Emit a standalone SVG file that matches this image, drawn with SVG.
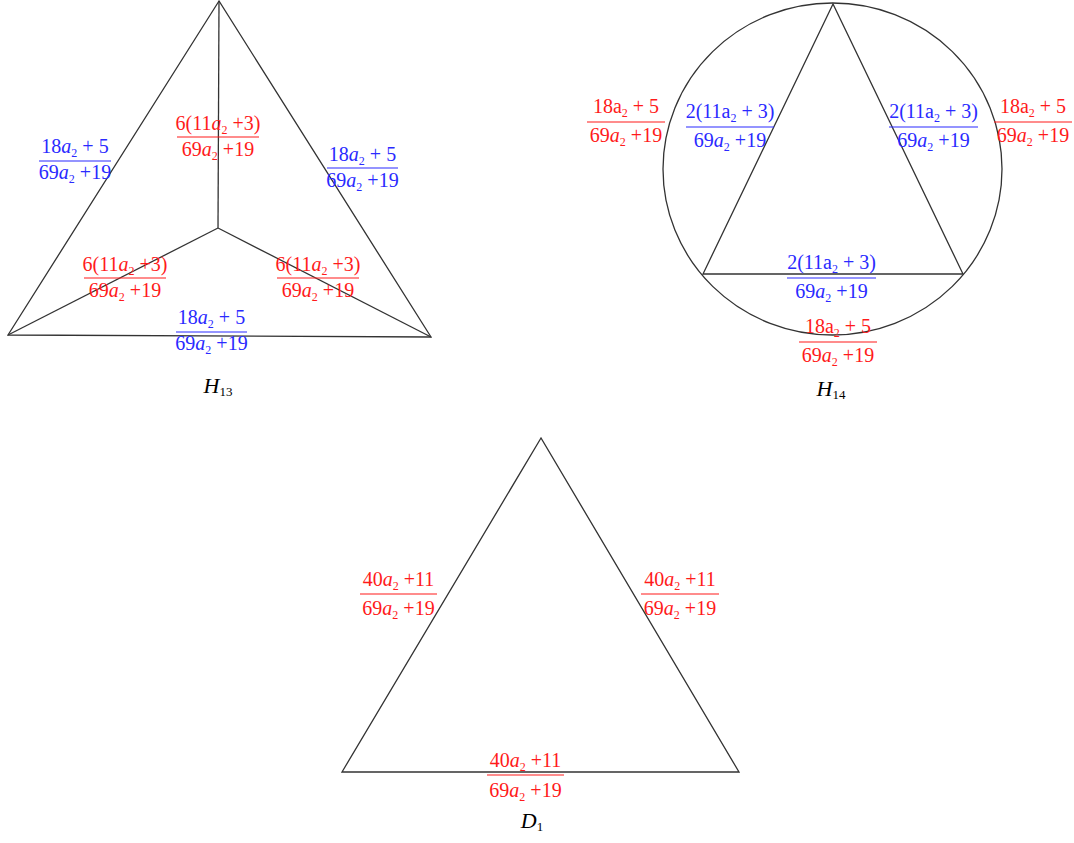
<svg xmlns="http://www.w3.org/2000/svg" width="1074" height="843" viewBox="0 0 1074 843">
<style>
text{font-family:"Liberation Serif","Times New Roman",serif;font-size:20px;text-anchor:middle}
.r text{fill:#ff1a1a}.b text{fill:#2a2aff}
.r line{stroke:#ff1a1a;stroke-width:1.2}.b line{stroke:#2a2aff;stroke-width:1.2}
.i{font-style:italic}
.s{font-size:12px}
.edge{stroke:#333;stroke-width:1.3;fill:none}
.lbl{fill:#000;font-size:22px}
.ls{font-size:13px}
</style>
<g id="connectors">
<polygon class="edge" points="219,1 8,335 431,337"/>
<line class="edge" x1="219" y1="1" x2="218" y2="228"/>
<line class="edge" x1="218" y1="228" x2="8" y2="335"/>
<line class="edge" x1="218" y1="228" x2="431" y2="337"/>
<ellipse class="edge" cx="832.5" cy="169" rx="169.5" ry="166"/>
<polygon class="edge" points="833,4 703,274 963,274"/>
<polygon class="edge" points="541,438 342,772 739,772"/>
</g>
<g id="h13-left" class="b"><text x="75" y="153">18<tspan class="i">a</tspan><tspan class="s" dy="4">2</tspan><tspan dy="-4"> + 5</tspan></text><line x1="39" y1="161" x2="111" y2="161"/><text x="75" y="179">69<tspan class="i">a</tspan><tspan class="s" dy="4">2</tspan><tspan dy="-4"> +19</tspan></text></g>
<g id="h13-top" class="r"><text x="218" y="130">6(11<tspan class="i">a</tspan><tspan class="s" dy="4">2</tspan><tspan dy="-4"> +3)</tspan></text><line x1="177" y1="137" x2="259" y2="137"/><text x="218" y="156">69<tspan class="i">a</tspan><tspan class="s" dy="4">2</tspan><tspan dy="-4"> +19</tspan></text></g>
<g id="h13-right" class="b"><text x="362.5" y="161">18<tspan class="i">a</tspan><tspan class="s" dy="4">2</tspan><tspan dy="-4"> + 5</tspan></text><line x1="327" y1="168" x2="398" y2="168"/><text x="362.5" y="187">69<tspan class="i">a</tspan><tspan class="s" dy="4">2</tspan><tspan dy="-4"> +19</tspan></text></g>
<g id="h13-bl" class="r"><text x="125" y="271">6(11<tspan class="i">a</tspan><tspan class="s" dy="4">2</tspan><tspan dy="-4"> +3)</tspan></text><line x1="84" y1="278" x2="166" y2="278"/><text x="125" y="297">69<tspan class="i">a</tspan><tspan class="s" dy="4">2</tspan><tspan dy="-4"> +19</tspan></text></g>
<g id="h13-br" class="r"><text x="318" y="271">6(11<tspan class="i">a</tspan><tspan class="s" dy="4">2</tspan><tspan dy="-4"> +3)</tspan></text><line x1="277" y1="278" x2="359" y2="278"/><text x="318" y="297">69<tspan class="i">a</tspan><tspan class="s" dy="4">2</tspan><tspan dy="-4"> +19</tspan></text></g>
<g id="h13-bottom" class="b"><text x="211.5" y="324">18<tspan class="i">a</tspan><tspan class="s" dy="4">2</tspan><tspan dy="-4"> + 5</tspan></text><line x1="176" y1="332" x2="247" y2="332"/><text x="211.5" y="350">69<tspan class="i">a</tspan><tspan class="s" dy="4">2</tspan><tspan dy="-4"> +19</tspan></text></g>
<g id="h13-label"><text class="lbl" x="218" y="393"><tspan class="i">H</tspan><tspan class="ls" dy="3">13</tspan></text></g>
<g id="h14-lo" class="r"><text x="626" y="113">18a<tspan class="s" dy="4">2</tspan><tspan dy="-4"> + 5</tspan></text><line x1="587" y1="122" x2="665" y2="122"/><text x="626" y="142">69<tspan class="i">a</tspan><tspan class="s" dy="4">2</tspan><tspan dy="-4"> +19</tspan></text></g>
<g id="h14-li" class="b"><text x="730" y="118">2(11a<tspan class="s" dy="4">2</tspan><tspan dy="-4"> + 3)</tspan></text><line x1="686" y1="127" x2="774" y2="127"/><text x="730" y="147">69<tspan class="i">a</tspan><tspan class="s" dy="4">2</tspan><tspan dy="-4"> +19</tspan></text></g>
<g id="h14-ri" class="b"><text x="933.5" y="118">2(11a<tspan class="s" dy="4">2</tspan><tspan dy="-4"> + 3)</tspan></text><line x1="889" y1="127" x2="978" y2="127"/><text x="933.5" y="147">69<tspan class="i">a</tspan><tspan class="s" dy="4">2</tspan><tspan dy="-4"> +19</tspan></text></g>
<g id="h14-ro" class="r"><text x="1033" y="113">18a<tspan class="s" dy="4">2</tspan><tspan dy="-4"> + 5</tspan></text><line x1="994" y1="122" x2="1072" y2="122"/><text x="1033" y="142">69<tspan class="i">a</tspan><tspan class="s" dy="4">2</tspan><tspan dy="-4"> +19</tspan></text></g>
<g id="h14-bi" class="b"><text x="831.5" y="269">2(11a<tspan class="s" dy="4">2</tspan><tspan dy="-4"> + 3)</tspan></text><line x1="787" y1="278" x2="876" y2="278"/><text x="831.5" y="298">69<tspan class="i">a</tspan><tspan class="s" dy="4">2</tspan><tspan dy="-4"> +19</tspan></text></g>
<g id="h14-bo" class="r"><text x="838" y="333">18a<tspan class="s" dy="4">2</tspan><tspan dy="-4"> + 5</tspan></text><line x1="799" y1="342" x2="877" y2="342"/><text x="838" y="362">69<tspan class="i">a</tspan><tspan class="s" dy="4">2</tspan><tspan dy="-4"> +19</tspan></text></g>
<g id="h14-label"><text class="lbl" x="831" y="396"><tspan class="i">H</tspan><tspan class="ls" dy="3">14</tspan></text></g>
<g id="d1-left" class="r"><text x="398.5" y="586">40<tspan class="i">a</tspan><tspan class="s" dy="4">2</tspan><tspan dy="-4"> +11</tspan></text><line x1="360" y1="594" x2="437" y2="594"/><text x="398.5" y="615">69<tspan class="i">a</tspan><tspan class="s" dy="4">2</tspan><tspan dy="-4"> +19</tspan></text></g>
<g id="d1-right" class="r"><text x="680" y="586">40<tspan class="i">a</tspan><tspan class="s" dy="4">2</tspan><tspan dy="-4"> +11</tspan></text><line x1="641" y1="594" x2="719" y2="594"/><text x="680" y="615">69<tspan class="i">a</tspan><tspan class="s" dy="4">2</tspan><tspan dy="-4"> +19</tspan></text></g>
<g id="d1-bottom" class="r"><text x="525.5" y="767">40<tspan class="i">a</tspan><tspan class="s" dy="4">2</tspan><tspan dy="-4"> +11</tspan></text><line x1="487" y1="775" x2="564" y2="775"/><text x="525.5" y="797">69<tspan class="i">a</tspan><tspan class="s" dy="4">2</tspan><tspan dy="-4"> +19</tspan></text></g>
<g id="d1-label"><text class="lbl" x="532" y="828"><tspan class="i">D</tspan><tspan class="ls" dy="3">1</tspan></text></g>
</svg>
